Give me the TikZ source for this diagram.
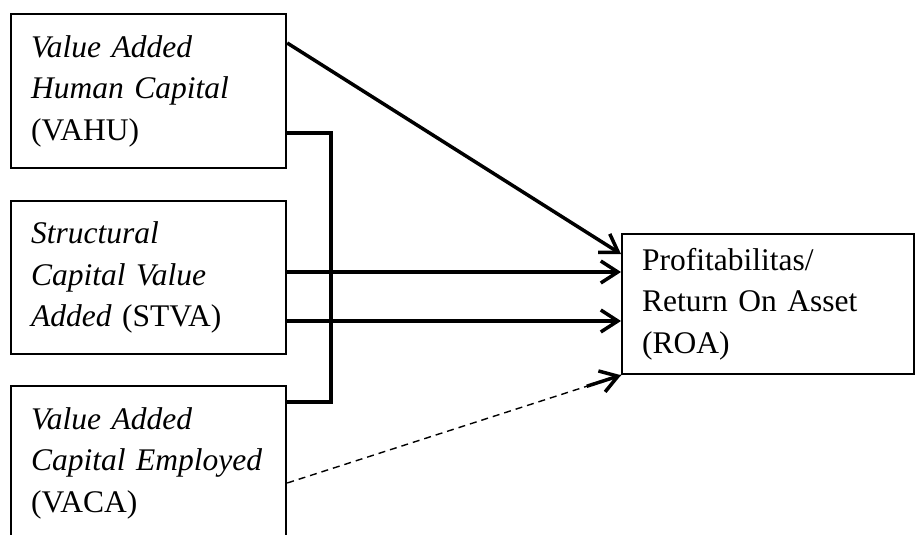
\documentclass[tikz,border=0pt]{standalone}
\usepackage{fontspec}
\setmainfont{Liberation Serif}
\usetikzlibrary{arrows.meta,calc}
\begin{document}
\begin{tikzpicture}[x=1pt,y=-1pt,
  box/.style={draw, line width=2.2pt, rectangle, anchor=north west,
    inner xsep=20pt, inner ysep=0pt, align=left,
    font=\fontsize{31.5}{41.5}\selectfont},
  conn/.style={line width=3.5pt, line join=miter,
    -{Straight Barb[length=17pt,width=22pt,line width=3.5pt]}},
  link/.style={line width=3.5pt, line join=miter},
  weak/.style={line width=1.4pt, dash pattern=on 7pt off 5pt}]
\clip (0,0) rectangle (915,535);
\node[box, minimum width=275pt, minimum height=154pt, text width=235pt] (vahu) at (10,13)
  {\textit{Value Added}\\\textit{Human Capital}\\(VAHU)};
\node[box, minimum width=275pt, minimum height=153pt, text width=235pt] (stva) at (10,200)
  {\textit{Structural}\\\textit{Capital Value}\\\textit{Added} (STVA)};
\node[box, minimum width=275pt, minimum height=154pt, text width=235pt] (vaca) at (10,385)
  {\textit{Value Added}\\\textit{Capital Employed}\\(VACA)};
\node[box, minimum width=292pt, minimum height=140pt, text width=252pt] (roa) at (621,233)
  {Profitabilitas/\\Return On Asset\\(ROA)};
\coordinate (h0) at ([yshift=-30pt]vahu.north east);
\coordinate (h1) at ([yshift=-21pt]roa.north west);
\coordinate (b0) at ([yshift=-120pt]vahu.north east);
\coordinate (b1) at ([yshift=-17pt]vaca.north east);
\coordinate (s1) at ([yshift=-72pt]stva.north east);
\coordinate (s2) at ([yshift=-121pt]stva.north east);
\coordinate (d0) at ([yshift=-98pt]vaca.north east);
\draw[conn] (h0) -- (h1);
\draw[link] (b0) -- ++(44,0) |- (b1);
\draw[conn] (s1) -- (s1 -| roa.west);
\draw[conn] (s2) -- (s2 -| roa.west);
\draw[weak] (d0) -- (roa.south west);
\draw[conn] ($(roa.south west)!36pt!(d0)$) -- (roa.south west);
\end{tikzpicture}
\end{document}
